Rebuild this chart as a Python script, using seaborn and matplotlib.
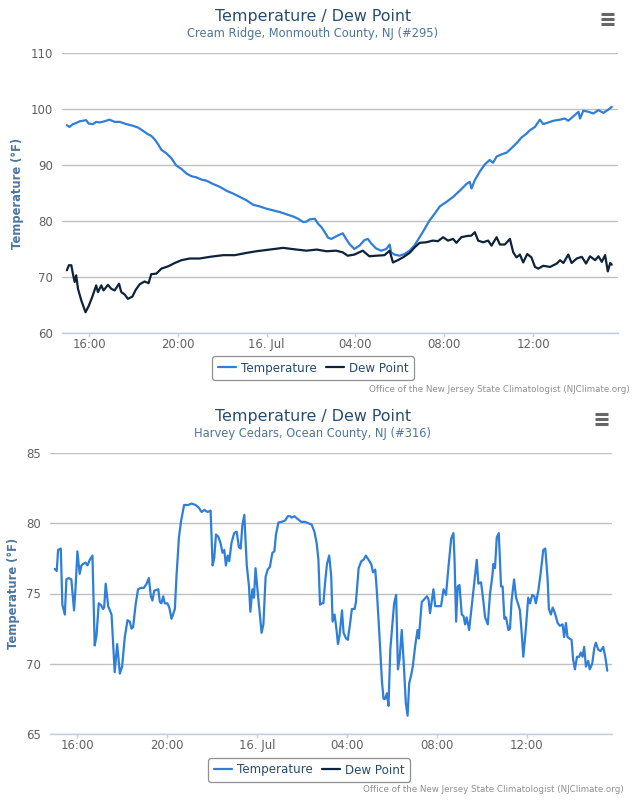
import matplotlib
matplotlib.use("Agg")
import matplotlib.pyplot as plt
import seaborn as sns
import pandas as pd
from matplotlib.lines import Line2D

sns.set_theme(style="white")
plt.rcParams['font.family'] = ['DejaVu Sans']

# ---------------- DATA ----------------
# hours since 15 Jul 00:00
cr_temp_hours = [15.00, 15.12, 15.27, 15.42, 15.57, 15.87, 15.98, 16.17, 16.32, 16.47, 16.70, 16.92, 17.15, 17.38,
                 17.68, 17.98, 18.20, 18.43, 18.65, 18.80, 18.95, 19.11, 19.26, 19.48, 19.71, 19.93, 20.16, 20.38,
                 20.61, 20.83, 21.06, 21.29, 21.59, 21.89, 22.19, 22.49, 22.79, 23.09, 23.39, 23.69, 23.99, 24.29,
                 24.59, 24.89, 25.20, 25.42, 25.65, 25.80, 25.95, 26.17, 26.32, 26.47, 26.62, 26.77, 26.92,
                 27.20, 27.43, 27.58, 27.73, 27.95, 28.18, 28.41, 28.56, 28.71, 28.93, 29.16, 29.39, 29.54, 29.61,
                 29.76, 29.99, 30.21, 30.44, 30.67, 30.89, 31.12, 31.34, 31.57, 31.80, 32.10, 32.40, 32.70, 33.00,
                 33.15, 33.23, 33.38, 33.60, 33.83, 34.05, 34.20, 34.36, 34.58, 34.81, 35.03, 35.26, 35.48, 35.71,
                 35.86, 36.09, 36.31, 36.46, 36.69, 36.92, 37.22, 37.44, 37.59, 37.82, 38.05, 38.12, 38.27, 38.50,
                 38.72, 38.95, 39.17, 39.40, 39.55]
cr_temp = [97.1, 96.8, 97.3, 97.5, 97.8, 98.0, 97.4, 97.3, 97.7, 97.6, 97.8, 98.1, 97.7, 97.7,
           97.3, 97.0, 96.7, 96.1, 95.5, 95.2, 94.6, 93.7, 92.7, 92.1, 91.2, 89.9, 89.3, 88.5,
           88.0, 87.8, 87.4, 87.2, 86.6, 86.1, 85.4, 84.9, 84.3, 83.7, 82.9, 82.6, 82.2, 81.9,
           81.6, 81.2, 80.8, 80.4, 79.8, 79.9, 80.3, 80.4, 79.5, 78.9, 78.0, 77.0, 76.8,
           77.4, 77.8, 76.8, 75.9, 75.0, 75.6, 76.6, 76.8, 76.0, 75.1, 74.7, 75.0, 75.8, 74.4,
           74.0, 73.8, 74.1, 74.7, 75.7, 77.1, 78.6, 80.1, 81.3, 82.6, 83.4, 84.3, 85.4, 86.6,
           87.0, 85.8, 87.3, 88.8, 90.1, 90.9, 90.4, 91.5, 91.9, 92.2, 93.0, 93.9, 94.9, 95.6,
           96.2, 96.8, 98.1, 97.3, 97.6, 97.9, 98.1, 98.3, 97.9, 98.7, 99.5, 98.3, 99.7, 99.5,
           99.2, 99.8, 99.3, 99.9, 100.4]

cr_dew_hours = [15.00, 15.09, 15.20, 15.27, 15.35, 15.42, 15.50, 15.65, 15.84, 15.99, 16.14, 16.32, 16.40, 16.55,
                16.65, 16.85, 17.00, 17.15, 17.35, 17.45, 17.60, 17.75, 17.95, 18.10, 18.28, 18.50, 18.68, 18.80,
                19.03, 19.26, 19.56, 19.86, 20.16, 20.53, 20.98, 21.44, 22.04, 22.56, 23.09, 23.54, 24.14, 24.74,
                25.35, 25.80, 26.25, 26.70,
                27.13, 27.43, 27.65, 27.95, 28.33, 28.63, 28.93, 29.31, 29.54, 29.69, 29.91, 30.14, 30.44, 30.67,
                30.89, 31.19, 31.49, 31.72, 31.95, 32.17, 32.40, 32.55, 32.77, 33.00, 33.23, 33.38, 33.53, 33.75,
                33.98, 34.13, 34.36, 34.51, 34.73, 34.96, 35.11, 35.26, 35.41, 35.56, 35.74, 35.93, 36.09, 36.24,
                36.46, 36.77, 37.07, 37.22, 37.37, 37.59, 37.74, 37.97, 38.20, 38.39, 38.57, 38.80, 38.95, 39.10,
                39.25, 39.37, 39.48, 39.55]
cr_dew = [71.2, 72.1, 72.1, 70.6, 69.1, 70.3, 67.9, 65.8, 63.7, 64.9, 66.4, 68.5, 67.3, 68.5,
          67.6, 68.6, 67.9, 67.6, 68.8, 67.3, 66.9, 66.1, 66.5, 67.7, 68.7, 69.2, 68.9, 70.5,
          70.6, 71.5, 71.9, 72.5, 73.0, 73.3, 73.3, 73.6, 73.9, 73.9, 74.3, 74.6, 74.9, 75.2,
          74.9, 74.7, 74.9, 74.6,
          74.7, 74.4, 73.8, 74.0, 74.7, 73.7, 73.8, 73.9, 74.7, 72.6, 73.0, 73.5, 74.3, 75.3,
          76.1, 76.2, 76.5, 76.4, 77.1, 76.5, 76.8, 76.1, 77.1, 77.3, 77.4, 78.0, 76.5, 76.2,
          76.5, 75.6, 77.1, 75.8, 75.8, 76.8, 74.4, 73.5, 74.0, 72.6, 74.1, 73.5, 71.8, 71.5,
          72.0, 71.8, 72.4, 73.0, 72.5, 74.0, 72.5, 73.3, 73.6, 72.4, 73.7, 73.0, 73.7, 72.7,
          73.9, 71.0, 72.5, 72.2]

hc_temp_hours = [14.99, 15.08, 15.14, 15.26, 15.33, 15.44, 15.51, 15.61, 15.73, 15.85, 15.91, 16.00, 16.10, 16.18,
                 16.25, 16.36, 16.45, 16.55, 16.67, 16.77, 16.85, 16.95, 17.04, 17.14, 17.19, 17.26, 17.37, 17.52,
                 17.66, 17.77, 17.89, 17.99, 18.11, 18.23, 18.33, 18.41, 18.48, 18.59, 18.70, 18.82, 18.96, 19.08,
                 19.18, 19.27, 19.34, 19.42, 19.60, 19.67, 19.74, 19.82, 19.89, 20.01, 20.09, 20.19, 20.34, 20.41,
                 20.52, 20.61, 20.75, 20.93, 21.08, 21.26, 21.41, 21.53, 21.65, 21.80, 21.93, 22.02, 22.09, 22.17,
                 22.27, 22.37, 22.46, 22.54, 22.61, 22.69, 22.76, 22.86, 22.98, 23.09, 23.19, 23.27, 23.34, 23.43,
                 23.54, 23.64, 23.70, 23.79, 23.86, 23.93, 24.05, 24.13, 24.20, 24.28, 24.38, 24.47, 24.57, 24.68,
                 24.77, 24.84, 24.95, 25.10, 25.25, 25.37, 25.47, 25.54, 25.66, 25.81, 25.96, 26.13, 26.28, 26.43,
                 26.55, 26.65, 26.73, 26.80, 26.88, 26.95,
                 27.04, 27.11, 27.21, 27.30, 27.36, 27.45, 27.53, 27.60, 27.67, 27.78, 27.85, 27.96, 28.04, 28.15,
                 28.22, 28.34, 28.40, 28.52, 28.64, 28.74, 28.84, 28.96, 29.08, 29.16, 29.26, 29.33, 29.44, 29.56,
                 29.63, 29.70, 29.78, 29.85, 29.93, 30.03, 30.10, 30.19, 30.27, 30.34, 30.44, 30.53, 30.62, 30.70,
                 30.77, 30.86, 30.93, 31.04, 31.14, 31.20, 31.33, 31.45, 31.56, 31.63, 31.70, 31.78, 31.85, 31.93,
                 32.07, 32.19, 32.30, 32.41, 32.52, 32.64, 32.74, 32.79, 32.86, 32.93, 33.01, 33.11, 33.19, 33.26,
                 33.33, 33.44, 33.56, 33.67, 33.78, 33.85, 33.97, 34.07, 34.15, 34.27, 34.37, 34.47, 34.52, 34.59,
                 34.67, 34.76, 34.86, 34.93, 35.01, 35.08, 35.19, 35.26, 35.33, 35.44, 35.53, 35.63, 35.70, 35.78,
                 35.85, 35.96, 36.07, 36.15, 36.25, 36.34, 36.41, 36.52, 36.62, 36.74, 36.83, 36.93, 36.99, 37.08,
                 37.16, 37.26, 37.38, 37.48, 37.60, 37.67, 37.75, 37.82, 37.90, 38.00, 38.07, 38.15, 38.24, 38.34,
                 38.41, 38.49, 38.56, 38.64, 38.74, 38.81, 38.92, 39.01, 39.08, 39.19, 39.29, 39.41, 39.50, 39.59]
hc_temp = [76.75, 76.6, 78.1, 78.2, 74.2, 73.5, 76.0, 76.1, 76.0, 73.8, 75.2, 78.0, 76.4, 77.0,
           77.1, 77.2, 77.0, 77.4, 77.7, 71.3, 72.0, 74.3, 74.2, 73.9, 74.0, 75.7, 74.1, 73.5,
           69.4, 71.4, 69.3, 69.8, 71.9, 73.1, 73.0, 72.5, 72.6, 74.2, 75.3, 75.4, 75.4, 75.7,
           76.1, 74.8, 74.5, 75.2, 75.3, 74.4, 74.3, 74.8, 74.3, 74.3, 74.0, 73.2, 73.9, 76.2,
           79.0, 80.1, 81.3, 81.3, 81.4, 81.3, 81.1, 80.8, 80.95, 80.8, 80.9, 77.0, 77.5, 79.2,
           79.05, 78.6, 77.9, 78.1, 77.0, 77.7, 77.3, 78.6, 79.3, 79.4, 78.3, 78.2, 79.8, 80.6,
           77.0, 75.5, 73.7, 75.3, 74.7, 76.8, 74.7, 73.4, 72.2, 72.8, 76.2, 76.7, 76.9, 77.9,
           78.0, 79.2, 80.05, 80.1, 80.2, 80.5, 80.5, 80.4, 80.5, 80.3, 80.1, 80.1, 80.0, 79.9,
           79.4, 78.6, 77.4, 74.2, 74.3, 74.3,
           76.0, 77.1, 77.7, 76.2, 73.0, 73.5, 72.5, 71.4, 72.0, 73.8, 72.2, 71.8, 71.7, 73.0,
           73.9, 73.9, 74.4, 76.8, 77.3, 77.4, 77.7, 77.4, 77.1, 76.5, 76.7, 75.2, 72.2, 68.7,
           67.5, 67.5, 67.9, 67.0, 71.0, 72.9, 74.3, 74.9, 69.6, 70.3, 72.4, 70.0, 67.2, 66.3,
           68.6, 69.2, 69.8, 71.3, 72.4, 71.8, 74.4, 74.6, 74.8, 74.6, 73.6, 74.5, 75.3, 74.1,
           74.1, 74.1, 75.3, 74.9, 76.9, 78.9, 79.3, 77.4, 73.0, 75.5, 75.6, 73.5, 73.4, 72.8,
           73.3, 72.4, 74.2, 75.8, 77.4, 75.7, 75.8, 74.5, 73.3, 72.8, 75.0, 76.2, 77.1, 76.8,
           79.0, 79.3, 75.5, 75.5, 73.2, 73.3, 72.4, 72.5, 74.5, 76.0, 74.7, 74.2, 73.8, 72.2,
           70.5, 72.4, 74.7, 74.3, 74.9, 74.8, 74.3, 75.2, 76.4, 78.1, 78.2, 76.1, 73.9, 73.5,
           74.0, 73.6, 72.9, 72.7, 72.8, 71.9, 72.9, 71.9, 71.8, 71.7, 70.3, 69.6, 70.5, 70.5,
           70.8, 70.5, 71.2, 69.8, 70.2, 69.6, 70.0, 71.1, 71.5, 71.0, 70.9, 71.2, 70.5, 69.5]

hc_dew_hours = []
hc_dew = []

x_tick_hours = [16, 20, 24, 28, 32, 36]
x_tick_labels = ["16:00", "20:00", "16. Jul", "04:00", "08:00", "12:00"]

TEMP_COLOR = "#2f7ed8"
DEW_COLOR = "#0d233a"

fig = plt.figure(figsize=(6.4, 8.1), dpi=100)
W, H = 640.0, 810.0


def fx(px):
    return px / W


def fy(py):
    return 1 - py / H


def panel(rect_px, title, subtitle, title_y, temp_h, temp_v, dew_h, dew_v, ylim, yticks, xlim,
          ylab_x, legend_c, credit_xy, menu_xy):
    l, t, r, b = rect_px
    ax = fig.add_axes([fx(l), fy(b), (r - l) / W, (b - t) / H])
    df_t = pd.DataFrame({"hour": temp_h, "value": temp_v})
    sns.lineplot(data=df_t, x="hour", y="value", ax=ax, color=TEMP_COLOR, linewidth=1.6,
                 estimator=None, sort=False, legend=False)
    if len(dew_h):
        df_d = pd.DataFrame({"hour": dew_h, "value": dew_v})
        sns.lineplot(data=df_d, x="hour", y="value", ax=ax, color=DEW_COLOR, linewidth=1.6,
                     estimator=None, sort=False, legend=False)
    ax.set_xlim(*xlim)
    ax.set_ylim(*ylim)
    ax.set_yticks(yticks)
    ax.set_yticklabels([str(v) for v in yticks])
    ax.set_xticks(x_tick_hours)
    ax.set_xticklabels(x_tick_labels)
    ax.set_xlabel("")
    ax.set_ylabel("")
    ax.grid(axis="y", color="#C0C0C0", linewidth=1.0)
    ax.grid(axis="x", visible=False)
    for s in ["top", "right", "left"]:
        ax.spines[s].set_visible(False)
    ax.spines["bottom"].set_color("#C0D0E0")
    ax.spines["bottom"].set_linewidth(1.0)
    ax.tick_params(axis="x", direction="out", length=3, width=1, color="#C0D0E0",
                   labelsize=8.4, labelcolor="#606060", pad=0.8, bottom=True)
    ax.tick_params(axis="y", length=0, labelsize=8.5, labelcolor="#606060", pad=6.5)
    ax.set_axisbelow(True)

    cx = fx(313)
    fig.text(cx, fy(title_y), title, ha="center", va="center", fontsize=11.4, color="#274b6d")
    fig.text(cx, fy(title_y + 16.5), subtitle, ha="center", va="center", fontsize=8.3, color="#4d759e")
    fig.text(fx(ylab_x), fy((t + b) / 2), "Temperature (°F)", rotation=90, ha="center", va="center",
             fontsize=8.3, fontweight="bold", color="#4d759e")

    handles = [Line2D([], [], color=TEMP_COLOR, lw=1.6), Line2D([], [], color=DEW_COLOR, lw=1.6)]
    leg = fig.legend(handles, ["Temperature", "Dew Point"], loc="center",
                     bbox_to_anchor=(fx(legend_c[0]), fy(legend_c[1])), ncol=2, fontsize=8.6,
                     frameon=True, fancybox=True, handlelength=1.5, handletextpad=0.4,
                     columnspacing=0.8, borderpad=0.45)
    for txt in leg.get_texts():
        txt.set_color("#274b6d")
    frame = leg.get_frame()
    frame.set_edgecolor("#909090")
    frame.set_linewidth(0.9)
    frame.set_facecolor("white")
    frame.set_alpha(1)

    fig.text(fx(credit_xy[0]), fy(credit_xy[1]),
             "Office of the New Jersey State Climatologist (NJClimate.org)",
             ha="right", va="center", fontsize=6.3, color="#909090")

    mx, my = menu_xy
    for k in range(3):
        yy = fy(my + k * 5)
        fig.add_artist(Line2D([fx(mx - 6.5), fx(mx + 6.5)], [yy, yy], color="#666666",
                              lw=2.2, solid_capstyle="butt"))
    return ax


panel((62, 53, 618, 333), "Temperature / Dew Point", "Cream Ridge, Monmouth County, NJ (#295)", 17,
      cr_temp_hours, cr_temp, cr_dew_hours, cr_dew, (60, 110), [60, 70, 80, 90, 100, 110],
      (14.78, 39.83), 18, (313, 368), (630, 389), (607, 14))

panel((50, 453, 612, 734), "Temperature / Dew Point", "Harvey Cedars, Ocean County, NJ (#316)", 417,
      hc_temp_hours, hc_temp, hc_dew_hours, hc_dew, (65, 85), [65, 70, 75, 80, 85],
      (14.78, 39.80), 14, (309, 770), (624, 789), (601, 414))

fig.savefig("out.png", dpi=100, facecolor="white")
